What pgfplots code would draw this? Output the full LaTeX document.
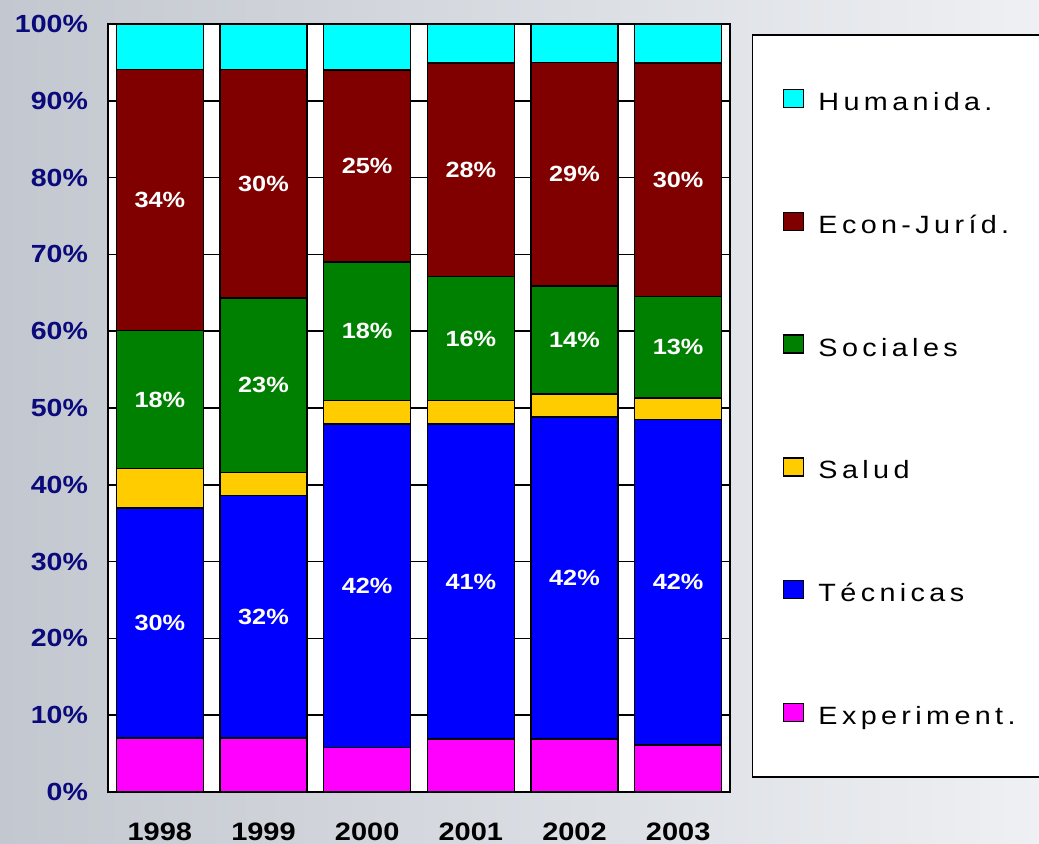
\documentclass[border=0pt]{standalone}
\usepackage{fontspec}
\setmainfont{Liberation Sans}[FakeStretch=1.15]
\newfontfamily\legfont{Liberation Sans}[FakeStretch=1.15, LetterSpace=17.5]
\usepackage{pgfplots}
\pgfplotsset{compat=1.18}
\definecolor{cHum}{HTML}{00FFFF}
\definecolor{cEco}{HTML}{800000}
\definecolor{cSoc}{HTML}{008000}
\definecolor{cSal}{HTML}{FFCC00}
\definecolor{cTec}{HTML}{0000FF}
\definecolor{cExp}{HTML}{FF00FF}
\definecolor{navy}{HTML}{0A0A7A}
\definecolor{bgL}{HTML}{C3C7CF}
\definecolor{bgR}{HTML}{EEF0F3}
\pgfplotsset{
  seglabel/.style={
    nodes near coords={\pgfplotspointmeta\%},
    point meta=explicit symbolic,
    every node near coord/.append style={anchor=center,
      text=white, font=\bfseries\fontsize{11}{13}\selectfont}
  }
}
\begin{document}
\begin{tikzpicture}
\path[use as bounding box] (0,0) rectangle (519.5pt,422pt);
\shade[left color=bgL, right color=bgR] (0,0) rectangle (519.5pt,422pt);
\draw[black, line width=0.75pt, fill=white] (376.3pt,33.5pt) rectangle (530pt,404.5pt);
\begin{axis}[
  at={(54pt,26pt)}, anchor=south west,
  scale only axis, width=311pt, height=384pt,
  ybar stacked, bar width=43.5pt,
  xmin=-0.5, xmax=5.5, ymin=0, ymax=100,
  xtick={0,...,5}, xticklabels={1998,1999,2000,2001,2002,2003},
  ytick={0,10,...,100},
  yticklabels={0\%,10\%,20\%,30\%,40\%,50\%,60\%,70\%,80\%,90\%,100\%},
  tick style={draw=none},
  ymajorgrids, grid style={black, line width=0.85pt},
  axis line style={black, line width=1pt},
  axis background/.style={fill=white},
  yticklabel style={font=\bfseries\fontsize{12.4}{15}\selectfont, text=navy, xshift=-6.5pt},
  xticklabel style={font=\bfseries\fontsize{12.6}{15}\selectfont, text=black, yshift=-12pt},
  legend style={at={(1.0852,0.9154)}, anchor=north west, draw=none, fill=none,
    inner sep=0pt, outer sep=0pt, row sep=50.5pt, column sep=7pt,
    font=\legfont\fontsize{12.5}{15}\selectfont,
    nodes={inner sep=0pt, text height=9pt, text depth=0pt}},
  legend cell align=left,
  reverse legend,
  legend image code/.code={\draw[#1, draw=black, line width=0.75pt] (0pt,-3pt) rectangle (10pt,6pt);},
]
\addplot[fill=cExp, draw=black, line width=0.75pt] coordinates {(0,7) (1,7) (2,5.8) (3,6.9) (4,6.9) (5,6.1)};
\addplot[fill=cTec, draw=black, line width=0.75pt, seglabel] coordinates {(0,30)[30] (1,31.6)[32] (2,42.1)[42] (3,41)[41] (4,41.9)[42] (5,42.4)[42]};
\addplot[fill=cSal, draw=black, line width=0.75pt] coordinates {(0,5.1) (1,3) (2,3.1) (3,3.1) (4,3) (5,2.8)};
\addplot[fill=cSoc, draw=black, line width=0.75pt, seglabel] coordinates {(0,18)[18] (1,22.7)[23] (2,18)[18] (3,16.1)[16] (4,14.1)[14] (5,13.2)[13]};
\addplot[fill=cEco, draw=black, line width=0.75pt, seglabel] coordinates {(0,34)[34] (1,29.8)[30] (2,25)[25] (3,27.8)[28] (4,29.1)[29] (5,30.4)[30]};
\addplot[fill=cHum, draw=black, line width=0.75pt] coordinates {(0,5.9) (1,5.9) (2,6) (3,5.1) (4,5) (5,5.1)};
\legend{Experiment.,Técnicas,Salud,Sociales,Econ-Juríd.,Humanida.}
\end{axis}
\end{tikzpicture}
\end{document}
